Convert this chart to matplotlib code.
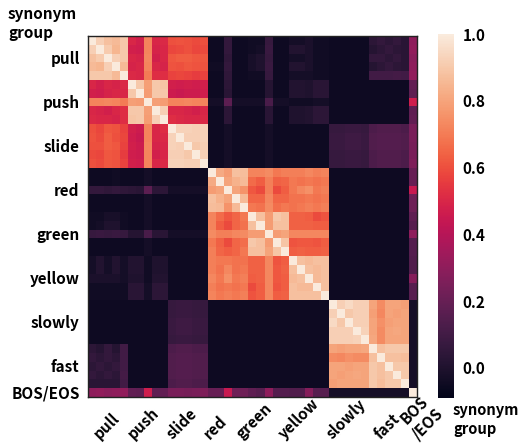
import numpy as np
import matplotlib
matplotlib.use("Agg")
import matplotlib.pyplot as plt
import matplotlib.transforms as mtransforms
import seaborn as sns

plt.rcParams['font.family'] = ['Noto Sans CJK JP', 'DejaVu Sans']

# synonym groups (5 words each, BOS/EOS single token)
groups = ["pull", "push", "slide", "red", "green", "yellow", "slowly", "fast", "BOS/EOS"]
group_sizes = [5, 5, 5, 5, 5, 5, 5, 5, 1]
xtick_labels = ["pull", "push", "slide", "red", "green", "yellow", "slowly", "fast", "BOS\n/EOS"]

# lower triangle of the similarity matrix, values x100 (row i: cols 0..i)
lower = [
    [100],
    [92, 100],
    [88, 91, 100],
    [86, 85, 92, 100],
    [90, 90, 90, 86, 100],
    [50, 48, 50, 49, 51, 100],
    [48, 47, 49, 50, 50, 90, 100],
    [72, 72, 73, 72, 70, 79, 78, 100],
    [50, 49, 48, 50, 52, 90, 90, 79, 100],
    [51, 50, 50, 49, 52, 89, 90, 78, 92, 100],
    [60, 58, 62, 61, 57, 48, 46, 72, 50, 52, 100],
    [61, 59, 63, 60, 58, 47, 45, 72, 50, 51, 93, 100],
    [60, 60, 63, 62, 57, 48, 46, 73, 49, 50, 93, 92, 100],
    [59, 58, 62, 61, 56, 47, 46, 72, 48, 50, 92, 92, 90, 100],
    [60, 59, 62, 61, 57, 48, 47, 72, 50, 51, 93, 93, 92, 92, 100],
    # red
    [-5, -5, -5, -4, -5, -5, -5, -3, -5, -5, -5, -5, -5, -5, -5, 100],
    [-5, -5, -5, -4, -5, -5, -5, -3, -5, -5, -5, -5, -5, -5, -5, 82, 100],
    [6, 6, 5, 6, 5, 4, 3, 17, 4, 4, -3, -3, -3, -3, -3, 78, 80, 100],
    [-5, -5, -5, -5, -5, -5, -5, -3, -5, -5, -5, -5, -5, -5, -5, 88, 84, 80, 100],
    [-5, -5, -5, -5, -5, -5, -5, -3, -5, -5, -5, -5, -5, -5, -5, 87, 86, 76, 86, 100],
    # green
    [-4, -4, -2, -2, -4, -5, -5, -3, -5, -5, -5, -5, -5, -5, -5, 72, 66, 62, 65, 69, 100],
    [-4, -3, 0, 0, -4, -5, -5, -3, -5, -5, -5, -5, -5, -5, -5, 72, 63, 59, 65, 68, 88, 100],
    [7, 8, 7, 8, 7, 2, 2, 12, 3, 3, -3, -3, -3, -3, -3, 74, 71, 71, 73, 74, 78, 78, 100],
    [-5, -5, -5, -5, -5, -5, -5, -3, -5, -5, -5, -5, -5, -5, -5, 69, 64, 59, 65, 67, 90, 88, 78, 100],
    [-5, -5, -5, -5, -5, -5, -5, -3, -5, -5, -5, -5, -5, -5, -5, 71, 65, 63, 65, 69, 88, 88, 80, 89, 100],
    # yellow
    [-3, 1, -3, 1, -3, 1, 1, -4, 0, 0, -5, -5, -5, -5, -5, 71, 69, 69, 68, 68, 64, 64, 73, 61, 63, 100],
    [-3, 1, -3, 1, -3, 1, 1, -4, 0, 0, -5, -5, -5, -5, -5, 71, 68, 73, 68, 69, 64, 64, 73, 62, 64, 88, 100],
    [-1, -1, -1, -1, -3, 0, 0, -4, 1, 1, -5, -5, -5, -5, -5, 73, 69, 75, 69, 71, 63, 64, 73, 62, 63, 86, 88, 100],
    [-4, -4, -4, -4, -4, 3, 3, -3, 4, 4, -5, -5, -5, -5, -5, 71, 68, 69, 68, 69, 59, 63, 73, 61, 63, 88, 86, 86, 100],
    [-4, -4, -4, -4, -4, 3, 3, -3, 4, 4, -5, -5, -5, -5, -5, 72, 69, 71, 69, 71, 61, 63, 73, 63, 64, 88, 88, 88, 88, 100],
    # slowly
    [-5, -5, -5, -5, -5, -5, -5, -5, -5, -5, 7, 8, 8, 7, 7,
     -5, -5, -5, -5, -5, -5, -5, -5, -5, -5, -5, -5, -5, -5, -5, 100],
    [-5, -5, -5, -5, -5, -5, -5, -5, -5, -5, 7, 8, 8, 7, 7,
     -5, -5, -5, -5, -5, -5, -5, -5, -5, -5, -5, -5, -5, -5, -5, 92, 100],
    [-5, -5, -5, -5, -5, -5, -5, -5, -5, -5, 8, 9, 9, 8, 8,
     -5, -5, -5, -5, -5, -5, -5, -5, -5, -5, -5, -5, -5, -5, -5, 95, 90, 100],
    [-5, -5, -5, -5, -5, -5, -5, -5, -5, -5, 8, 9, 9, 8, 8,
     -5, -5, -5, -5, -5, -5, -5, -5, -5, -5, -5, -5, -5, -5, -5, 92, 92, 92, 100],
    [-5, -5, -5, -5, -5, -5, -5, -5, -5, -5, 7, 8, 8, 7, 7,
     -5, -5, -5, -5, -5, -5, -5, -5, -5, -5, -5, -5, -5, -5, -5, 92, 92, 92, 93, 100],
    # fast
    [4, 2, 6, 2, 10, -5, -5, -5, -5, -5, 13, 14, 14, 13, 13,
     -5, -5, -5, -5, -5, -5, -5, -5, -5, -5, -5, -5, -5, -5, -5, 80, 79, 80, 80, 81, 100],
    [6, 4, 6, 4, 10, -5, -5, -5, -5, -5, 14, 15, 15, 14, 14,
     -5, -5, -5, -5, -5, -5, -5, -5, -5, -5, -5, -5, -5, -5, -5, 74, 73, 75, 74, 74, 88, 100],
    [4, 6, 4, 6, 10, -5, -5, -5, -5, -5, 14, 15, 15, 14, 14,
     -5, -5, -5, -5, -5, -5, -5, -5, -5, -5, -5, -5, -5, -5, -5, 80, 80, 79, 80, 80, 90, 88, 100],
    [6, 4, 6, 4, 11, -5, -5, -5, -5, -5, 14, 15, 15, 14, 14,
     -5, -5, -5, -5, -5, -5, -5, -5, -5, -5, -5, -5, -5, -5, -5, 80, 79, 80, 81, 80, 90, 88, 90, 100],
    [3, 3, 3, 3, 10, -5, -5, -5, -5, -5, 13, 14, 14, 13, 13,
     -5, -5, -5, -5, -5, -5, -5, -5, -5, -5, -5, -5, -5, -5, -5, 79, 80, 80, 80, 80, 90, 87, 90, 90, 100],
    # BOS/EOS
    [30, 31, 29, 30, 31, 19, 18, 47, 18, 19, 25, 25, 24, 25, 26,
     20, 20, 45, 22, 22, 18, 16, 30, 15, 15, 14, 14, 28, 16, 16,
     -3, -3, -3, -3, -3, -3, -3, -3, -3, -3, 100],
]

n = len(lower)
M = np.zeros((n, n))
for i, row in enumerate(lower):
    for j, v in enumerate(row):
        M[i, j] = v / 100.0
        M[j, i] = v / 100.0

edges = np.cumsum([0] + group_sizes)
centers = (edges[:-1] + edges[1:]) / 2.0 - 0.5

W, H = 522, 444
fig = plt.figure(figsize=(W / 100, H / 100), dpi=100)
ax = fig.add_axes([88 / W, 1 - 396.7 / H, (417 - 88) / W, (396.7 - 35.7) / H])
cax = fig.add_axes([437.7 / W, 1 - 397.7 / H, 16.6 / W, (397.7 - 34.3) / H])

cmap = sns.color_palette("rocket", as_cmap=True)
im = ax.imshow(M, cmap=cmap, vmin=-0.09, vmax=1.0, aspect='auto', interpolation='nearest')

fs = 11
ax.set_yticks(centers)
ax.set_yticklabels(groups, fontsize=fs, fontweight='bold')
ax.tick_params(axis='y', length=0, pad=6)
ax.set_xticks(centers)
ax.set_xticklabels([])
ax.tick_params(axis='x', length=0)

# rotated x labels, bottom-aligned near the figure bottom (pixel nudges per label)
label_dx_px = [-1.5, -4.5, -7, -13.5, -14.5, -9.5, -2.5, -1.5, 8]
base = mtransforms.blended_transform_factory(ax.transData, fig.transFigure)
for c, lab, dx in zip(centers, xtick_labels, label_dx_px):
    tr = base + mtransforms.ScaledTranslation(dx / 100.0, 0, fig.dpi_scale_trans)
    ax.text(c, 1 - 442 / H, lab, transform=tr, rotation=45, ha='center', va='bottom',
            fontsize=fs, fontweight='bold', clip_on=False)

for sp in ax.spines.values():
    sp.set_linewidth(1.0)
    sp.set_color('#222222')

cb = fig.colorbar(im, cax=cax)
cb.outline.set_visible(False)
cb.set_ticks([0.0, 0.2, 0.4, 0.6, 0.8, 1.0])
cb.ax.tick_params(length=0, pad=6, labelsize=fs)
for t in cb.ax.get_yticklabels():
    t.set_fontweight('bold')

fig.text(8 / W, 1 - 6 / H, "synonym\ngroup", ha='left', va='top', fontsize=fs,
         fontweight='bold', linespacing=1.2)
fig.text(453 / W, 1 - 402 / H, "synonym\ngroup", ha='left', va='top', fontsize=10.6,
         fontweight='bold', linespacing=1.2)

fig.savefig("out.png", dpi=100)
